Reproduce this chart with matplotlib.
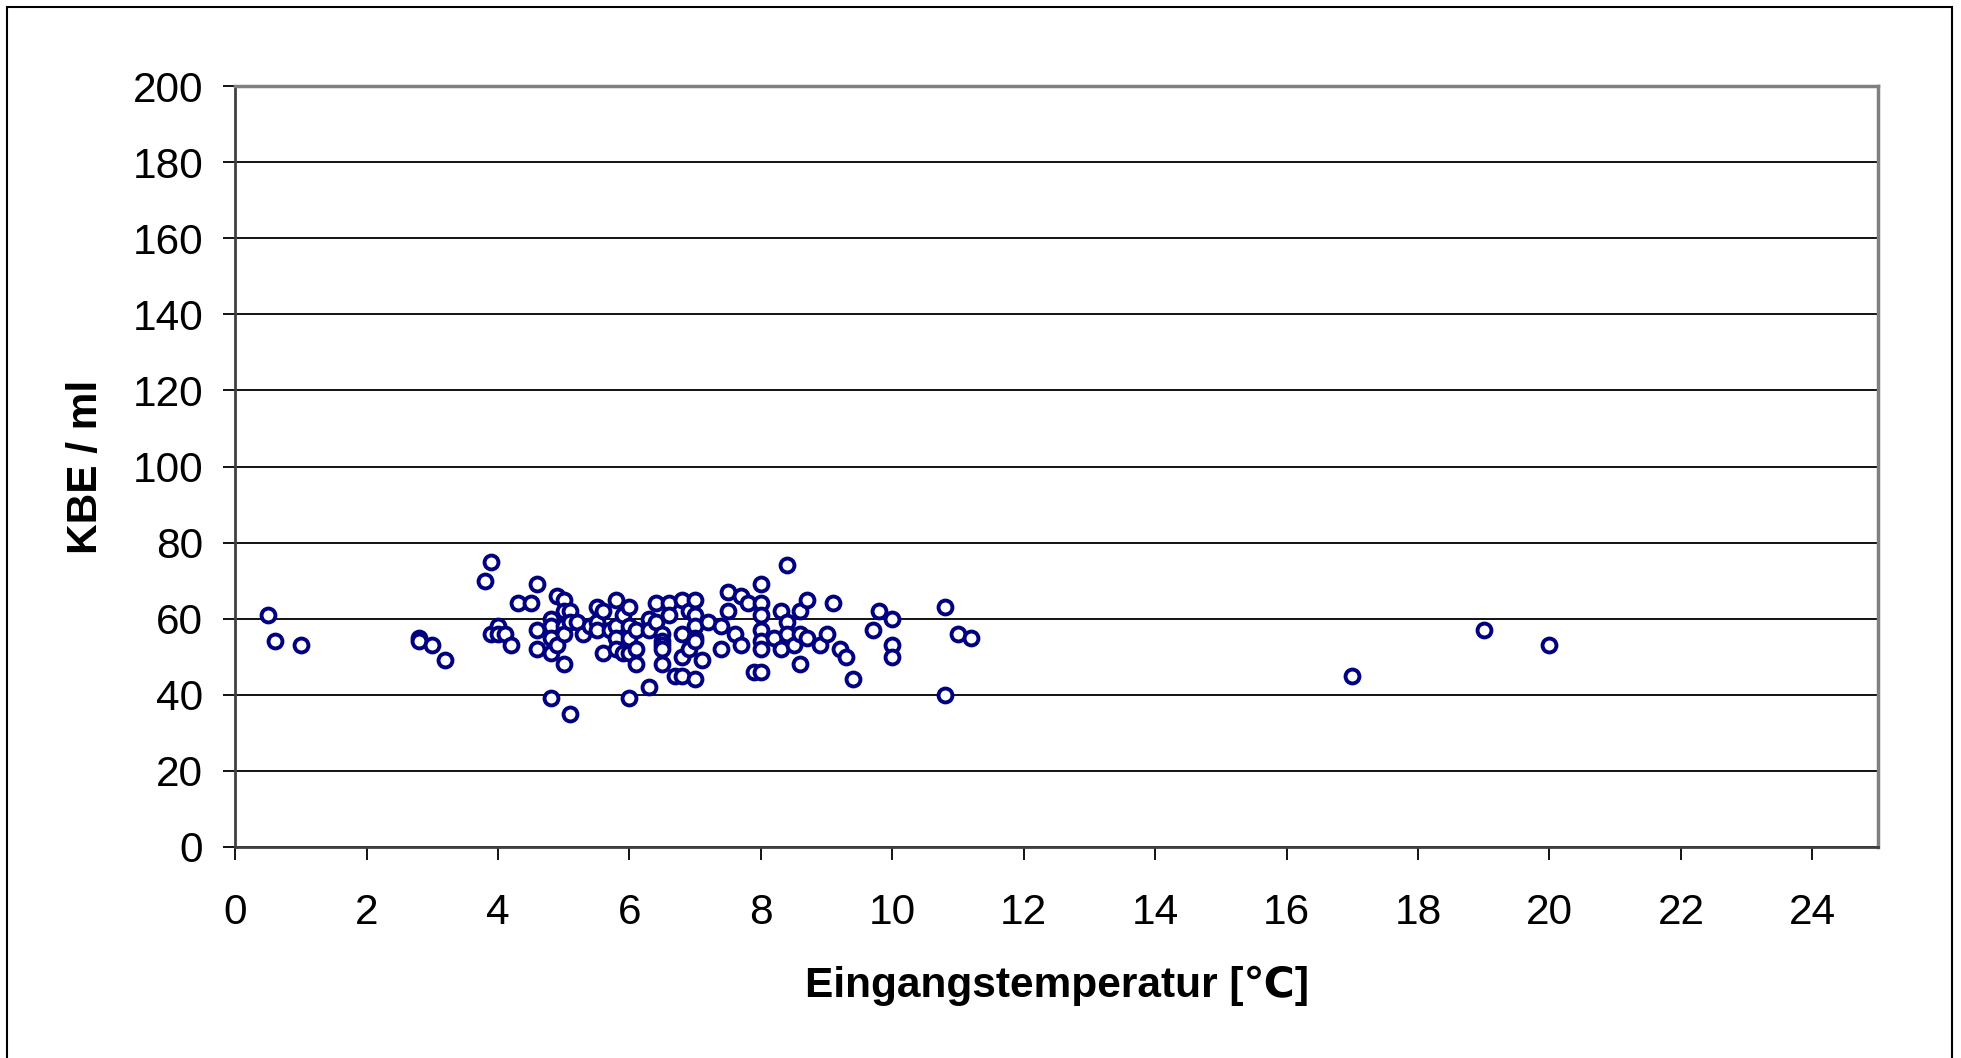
import numpy as np
import matplotlib.pyplot as plt
from matplotlib.patches import Rectangle

plt.rcParams['font.family'] = ['Liberation Sans', 'DejaVu Sans']

# Eingangstemperatur [°C] und KBE / ml
temp = [0.5, 0.6, 1.0, 2.8, 2.8, 3.0, 3.2, 3.8, 3.9, 3.9, 4.0, 4.0, 4.1, 4.2, 4.3, 4.5,
        4.6, 4.6, 4.6, 4.8, 4.8, 4.8, 4.8, 4.8, 4.9, 4.9, 5.0, 5.0, 5.0, 5.0, 5.0, 5.1,
        5.1, 5.1, 5.2, 5.3, 5.4, 5.5, 5.5, 5.5, 5.6, 5.6, 5.7, 5.8, 5.8, 5.8, 5.8, 5.9,
        5.9, 6.0, 6.0, 6.0, 6.0, 6.0, 6.1, 6.1, 6.1, 6.3, 6.3, 6.3, 6.4, 6.4, 6.5, 6.5,
        6.5, 6.5, 6.5, 6.6, 6.6, 6.7, 6.8, 6.8, 6.8, 6.8, 6.9, 6.9, 7.0, 7.0, 7.0, 7.0,
        7.0, 7.0, 7.1, 7.2, 7.4, 7.4, 7.5, 7.5, 7.6, 7.7, 7.7, 7.8, 7.9, 8.0, 8.0, 8.0,
        8.0, 8.0, 8.0, 8.0, 8.2, 8.3, 8.3, 8.4, 8.4, 8.4, 8.5, 8.6, 8.6, 8.6, 8.7, 8.7,
        8.9, 9.0, 9.1, 9.2, 9.3, 9.4, 9.7, 9.8, 10.0, 10.0, 10.0, 10.8, 10.8, 11.0, 11.2,
        17.0, 19.0, 20.0]
kbe = [61, 54, 53, 55, 54, 53, 49, 70, 75, 56, 58, 56, 56, 53, 64, 64,
       69, 57, 52, 60, 58, 55, 51, 39, 66, 53, 65, 62, 58, 56, 48, 35,
       62, 59, 59, 56, 58, 63, 59, 57, 62, 51, 57, 65, 58, 55, 52, 61,
       51, 63, 58, 55, 51, 39, 57, 52, 48, 42, 60, 57, 64, 59, 56, 54,
       53, 52, 48, 64, 61, 45, 65, 56, 50, 45, 62, 52, 65, 61, 58, 55,
       54, 44, 49, 59, 58, 52, 67, 62, 56, 66, 53, 64, 46, 69, 64, 61,
       57, 54, 52, 46, 55, 62, 52, 74, 59, 56, 53, 62, 56, 48, 65, 55,
       53, 56, 64, 52, 50, 44, 57, 62, 60, 53, 50, 63, 40, 56, 55,
       45, 57, 53]

fig = plt.figure(figsize=(19.61, 10.58), dpi=100)
ax = fig.add_axes([0.1199, 0.1997, 0.8378, 0.7187])

ax.plot(temp, kbe, linestyle='none', marker='o', markersize=10,
        markerfacecolor='white', markeredgecolor='#000080', markeredgewidth=2.8,
        clip_on=False, zorder=3)

ax.set_xlim(0, 25)
ax.set_ylim(0, 200)
ax.set_xticks(np.arange(0, 25, 2))
ax.set_yticks(np.arange(0, 201, 20))
ax.yaxis.grid(True, color='black', linewidth=1.3)
ax.set_axisbelow(True)

for s in ['top', 'right']:
    ax.spines[s].set_color('#808080')
    ax.spines[s].set_linewidth(2.5)
for s in ['left', 'bottom']:
    ax.spines[s].set_color('#404040')
    ax.spines[s].set_linewidth(2.0)

ax.tick_params(axis='both', direction='out', length=9, width=1.3, labelsize=30.5)
ax.tick_params(axis='y', pad=14)
ax.tick_params(axis='x', pad=24)

ax.set_xlabel('Eingangstemperatur [℃]', fontsize=30.5, fontweight='bold', labelpad=24)
ax.set_ylabel('KBE / ml', fontsize=30.5, fontweight='bold', labelpad=19)

fig.patches.append(Rectangle((0.0036, -0.01), 0.9918, 1.0034, transform=fig.transFigure,
                             fill=False, edgecolor='black', linewidth=1.5))

fig.savefig('out.png', dpi=100)
